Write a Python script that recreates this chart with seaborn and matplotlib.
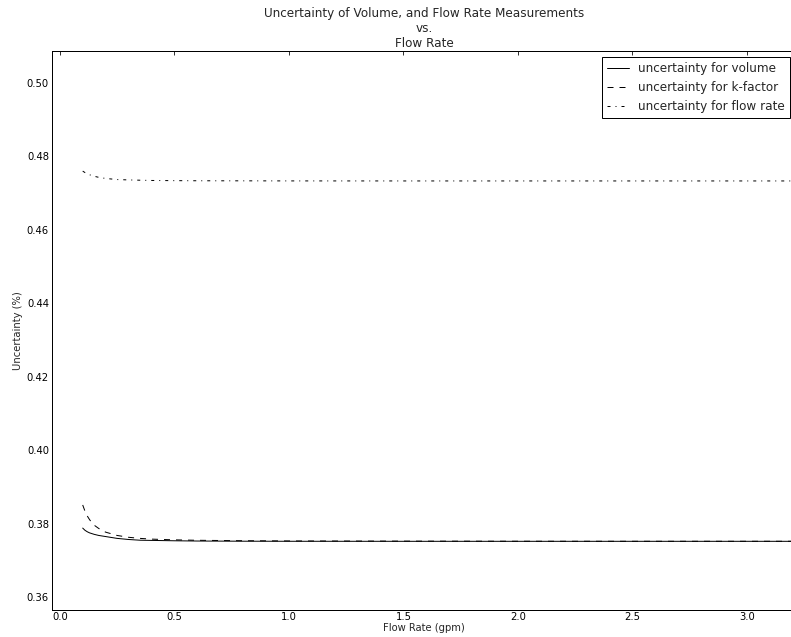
import numpy as np
import pandas as pd
import seaborn as sns
import matplotlib.pyplot as plt

sns.set_theme(style="white")
plt.rcParams['font.family'] = ['DejaVu Sans']

# Values
flow_rate = [0.10, 0.11, 0.12, 0.13, 0.14, 0.15, 0.17, 0.20, 0.25, 0.30, 0.35,
             0.40, 0.50, 0.60, 0.80, 1.00, 1.50, 2.00, 2.50, 3.00, 3.30]
unc_volume = [0.3788, 0.3782, 0.3778, 0.3775, 0.3773, 0.3771, 0.3768, 0.3765,
              0.3760, 0.3757, 0.3755, 0.37545, 0.37535, 0.37528, 0.37523,
              0.37521, 0.37520, 0.37520, 0.37520, 0.37520, 0.37520]
unc_kfactor = [0.3851, 0.3834, 0.3821, 0.3811, 0.3803, 0.3796, 0.3787, 0.3777,
               0.3768, 0.3763, 0.3760, 0.3758, 0.3756, 0.37548, 0.37536,
               0.37530, 0.37525, 0.37522, 0.37521, 0.37521, 0.37521]
unc_flow = [0.4760, 0.4756, 0.4753, 0.4750, 0.4748, 0.4746, 0.4743, 0.4740,
            0.4737, 0.4736, 0.47352, 0.47345, 0.4734, 0.47337, 0.47335,
            0.47333, 0.47332, 0.47332, 0.47332, 0.47332, 0.47332]

df = pd.DataFrame({'flow': flow_rate, 'volume': unc_volume,
                   'kfactor': unc_kfactor, 'flowrate': unc_flow})

fig = plt.figure(figsize=(791 / 72, 637 / 72), dpi=72)
ax = fig.add_axes([52 / 791, 1 - 610 / 637, 744 / 791, 559 / 637])

sns.lineplot(data=df, x='flow', y='volume', ax=ax, color='black', lw=1,
             linestyle='-', label='uncertainty for volume')
sns.lineplot(data=df, x='flow', y='kfactor', ax=ax, color='black', lw=1,
             linestyle=(0, (6, 6)), label='uncertainty for k-factor')
sns.lineplot(data=df, x='flow', y='flowrate', ax=ax, color='black', lw=1,
             linestyle=(0, (3, 5, 1, 5)), label='uncertainty for flow rate')

ax.set_xlim(-0.034, 3.214)
ax.set_ylim(0.3565, 0.5087)
ax.set_xticks(np.arange(0, 3.01, 0.5))
ax.set_yticks(np.arange(0.36, 0.501, 0.02))
ax.set_xticklabels(['0.0', '0.5', '1.0', '1.5', '2.0', '2.5', '3.0'])
ax.set_yticklabels(['%.2f' % v for v in np.arange(0.36, 0.501, 0.02)])
ax.tick_params(direction='in', length=4, width=0.8, top=True, right=True,
               labelsize=10, colors='black')
ax.tick_params(axis='x', pad=2)
ax.tick_params(axis='y', pad=3)
for s in ax.spines.values():
    s.set_color('black')
    s.set_linewidth(1)

ax.set_xlabel('Flow Rate (gpm)', fontsize=10, labelpad=1)
ax.set_ylabel('Uncertainty (%)', fontsize=10, labelpad=4)
ax.set_title('Uncertainty of Volume, and Flow Rate Measurements\nvs.\nFlow Rate',
             fontsize=12, pad=4)

leg = ax.legend(loc='upper right', fontsize=12, fancybox=False, frameon=True,
                framealpha=1, borderaxespad=0.5, handlelength=1.8)
leg.get_frame().set_edgecolor('black')
leg.get_frame().set_linewidth(1)

fig.savefig('out.png', dpi=72, facecolor='white')
